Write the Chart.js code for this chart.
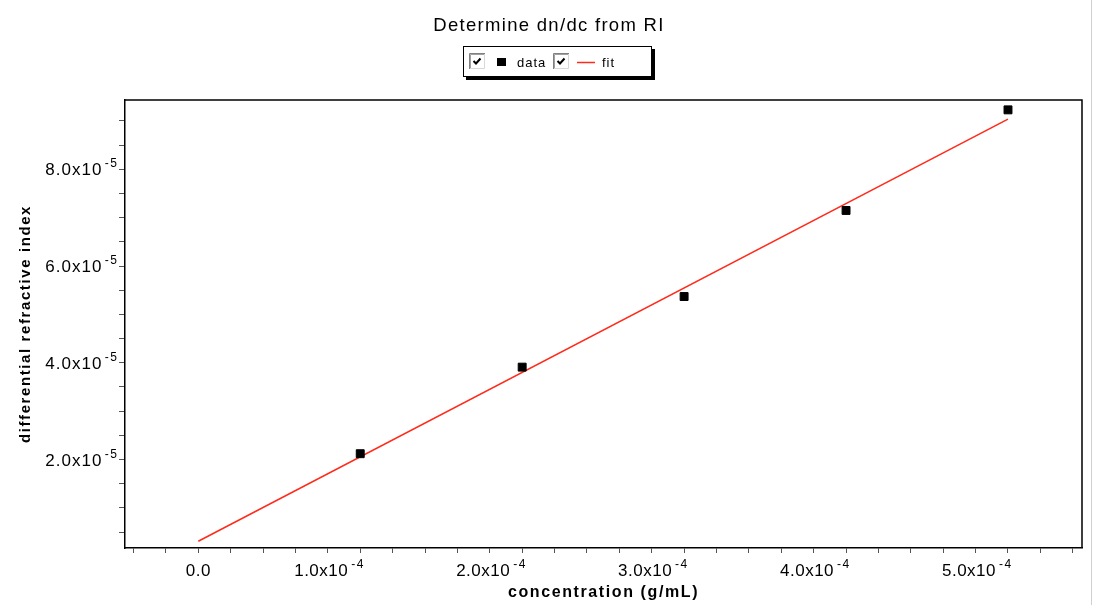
<!DOCTYPE html>
<html>
<head>
<meta charset="utf-8">
<script src="https://cdn.jsdelivr.net/npm/chart.js@4/dist/chart.umd.min.js"></script>
<style>
  html, body { margin: 0; padding: 0; background: #fff; }
  #wrap { position: relative; width: 1099px; height: 605px; }
  #edge { position: absolute; left: 1091px; top: 0; width: 1px; height: 605px; background: #cfcfcf; }
</style>
</head>
<body>
<div id="wrap">
  <canvas id="c" width="1099" height="605"></canvas>
  <div id="edge"></div>
</div>
<script>
// ---- data ----
const concentration = [1e-4, 2e-4, 3e-4, 4e-4, 5e-4];          // g/mL
const diffRI        = [2.12e-5, 3.91e-5, 5.37e-5, 7.15e-5, 9.23e-5];
const fitConc       = [0, 5e-4];
const fitRI         = [0.31e-5, 9.04e-5];

// ---- axes ----
const xRange = [-0.4526e-4, 5.457e-4];
const yRange = [0.17e-5, 9.434e-5];
const xMinorStep = 0.2e-4;
const yMinorStep = 0.5e-5;
const xTickValues = [0, 1e-4, 2e-4, 3e-4, 4e-4, 5e-4];
const xTickLabels = ["0.0", "1.0x10^-4", "2.0x10^-4", "3.0x10^-4", "4.0x10^-4", "5.0x10^-4"];
const yTickValues = [2e-5, 4e-5, 6e-5, 8e-5];
const yTickLabels = ["2.0x10^-5", "4.0x10^-5", "6.0x10^-5", "8.0x10^-5"];

const chartTitle = "Determine dn/dc from RI";
const xTitle = "concentration (g/mL)";
const yTitle = "differential refractive index";
const seriesNames = ["data", "fit"];

const FONT = "'Liberation Sans', Arial, sans-serif";

function minorTicks(min, max, step) {
  const out = [];
  const i0 = Math.ceil(min / step - 1e-9), i1 = Math.floor(max / step + 1e-9);
  for (let i = i0; i <= i1; i++) out.push({ value: i * step });
  return out;
}

function drawCheckbox(ctx, x, y) {
  ctx.fillStyle = '#fff';
  ctx.fillRect(x, y, 16, 16);
  ctx.lineWidth = 1;
  ctx.strokeStyle = '#808080';
  ctx.beginPath(); ctx.moveTo(x + 0.5, y + 16); ctx.lineTo(x + 0.5, y + 0.5); ctx.lineTo(x + 16, y + 0.5); ctx.stroke();
  ctx.strokeStyle = '#a0a0a0';
  ctx.beginPath(); ctx.moveTo(x + 1.5, y + 15); ctx.lineTo(x + 1.5, y + 1.5); ctx.lineTo(x + 15, y + 1.5); ctx.stroke();
  ctx.strokeStyle = '#d8d8d8';
  ctx.beginPath(); ctx.moveTo(x + 15.5, y + 1); ctx.lineTo(x + 15.5, y + 15.5); ctx.lineTo(x + 1, y + 15.5); ctx.stroke();
  ctx.strokeStyle = '#000';
  ctx.lineWidth = 2;
  ctx.beginPath(); ctx.moveTo(x + 4.5, y + 8); ctx.lineTo(x + 7, y + 10.5); ctx.lineTo(x + 11.5, y + 5.5); ctx.stroke();
}

const decor = {
  id: 'decor',
  beforeDraw(chart) {
    chart.ctx.letterSpacing = '1.6px';
  },
  afterDraw(chart) {
    const ctx = chart.ctx, a = chart.chartArea;
    const xs = chart.scales.x, ys = chart.scales.y;
    ctx.save();
    // top & right frame
    ctx.strokeStyle = '#000'; ctx.lineWidth = 1.5;
    ctx.beginPath(); ctx.moveTo(a.left, a.top); ctx.lineTo(a.right, a.top); ctx.lineTo(a.right, a.bottom); ctx.stroke();

    ctx.fillStyle = '#000';
    ctx.textBaseline = 'alphabetic';
    // x tick labels
    xTickValues.forEach((v, i) => {
      const px = xs.getPixelForValue(v);
      const parts = xTickLabels[i].split('^');
      const baseY = a.bottom + 28;
      ctx.font = '17px ' + FONT; ctx.letterSpacing = '0.5px';
      if (parts.length === 1) {
        ctx.textAlign = 'center'; ctx.fillText(parts[0], px, baseY);
      } else {
        ctx.textAlign = 'right'; ctx.fillText(parts[0], px - 12, baseY);
        ctx.font = '12px ' + FONT; ctx.letterSpacing = '1.5px';
        ctx.textAlign = 'left'; ctx.fillText(parts[1], px - 9, baseY - 8);
      }
    });
    // y tick labels
    yTickValues.forEach((v, i) => {
      const py = ys.getPixelForValue(v);
      const parts = yTickLabels[i].split('^');
      const baseY = py + 6;
      ctx.font = '12px ' + FONT; ctx.letterSpacing = '1.5px';
      const supW = ctx.measureText(parts[1]).width;
      ctx.textAlign = 'right';
      ctx.fillText(parts[1], a.left - 8 + 1.5, baseY - 8);
      ctx.font = '17px ' + FONT; ctx.letterSpacing = '1px';
      ctx.fillText(parts[0], a.left - 8 - supW - 1, baseY);
    });

    // chart title
    ctx.font = '18.5px ' + FONT; ctx.letterSpacing = '1.3px';
    ctx.textAlign = 'center';
    ctx.fillText(chartTitle, 549, 31);

    // legend box
    const lx = 463, ly = 46, lw = 189, lh = 31;
    ctx.fillStyle = '#000';
    ctx.fillRect(lx + 3, ly + 3, lw, lh);
    ctx.fillStyle = '#fff';
    ctx.fillRect(lx, ly, lw, lh);
    ctx.strokeStyle = '#000'; ctx.lineWidth = 1;
    ctx.strokeRect(lx + 0.5, ly + 0.5, lw - 1, lh - 1);
    drawCheckbox(ctx, 469, 53);
    drawCheckbox(ctx, 553, 53);
    ctx.fillStyle = '#000';
    ctx.fillRect(497, 58, 9, 8);
    ctx.strokeStyle = chart.data.datasets[1].borderColor; ctx.lineWidth = 1.5;
    ctx.beginPath(); ctx.moveTo(577, 62.5); ctx.lineTo(595, 62.5); ctx.stroke();
    ctx.fillStyle = '#000';
    ctx.font = '13px ' + FONT; ctx.letterSpacing = '1px';
    ctx.textAlign = 'left';
    ctx.fillText(seriesNames[0], 517, 67);
    ctx.fillText(seriesNames[1], 602, 67);
    ctx.restore();
  }
};

new Chart(document.getElementById('c'), {
  type: 'scatter',
  data: {
    datasets: [
      {
        label: seriesNames[0],
        data: concentration.map((c, i) => ({ x: c, y: diffRI[i] })),
        pointStyle: 'rect',
        pointRadius: 5.6,
        pointHoverRadius: 5.6,
        backgroundColor: '#000',
        borderColor: '#000',
        borderWidth: 1,
        order: 0
      },
      {
        label: seriesNames[1],
        data: fitConc.map((c, i) => ({ x: c, y: fitRI[i] })),
        showLine: true,
        pointRadius: 0,
        borderColor: '#ff2a1a',
        borderWidth: 1.5,
        backgroundColor: '#ff2a1a',
        order: 1
      }
    ]
  },
  options: {
    responsive: false,
    animation: false,
    events: [],
    layout: { padding: { top: 100, right: 17, left: 0, bottom: 0 } },
    plugins: { legend: { display: false }, title: { display: false }, tooltip: { enabled: false } },
    scales: {
      x: {
        type: 'linear',
        min: xRange[0], max: xRange[1],
        afterBuildTicks: s => { s.ticks = minorTicks(s.min, s.max, xMinorStep); },
        afterFit: s => { s.height = 57; },
        ticks: { display: false },
        grid: { display: true, drawOnChartArea: false, drawTicks: true, tickLength: 5, color: '#555', lineWidth: 1 },
        border: { display: true, color: '#000', width: 1.5 },
        title: { display: true, text: xTitle, color: '#000', font: { family: FONT, size: 16, weight: 'bold' }, padding: { top: 0, bottom: 3 } }
      },
      y: {
        type: 'linear',
        min: yRange[0], max: yRange[1],
        afterBuildTicks: s => { s.ticks = minorTicks(s.min, s.max, yMinorStep); },
        afterFit: s => { s.width = 125; },
        ticks: { display: false },
        grid: { display: true, drawOnChartArea: false, drawTicks: true, tickLength: 6, color: '#555', lineWidth: 1 },
        border: { display: true, color: '#000', width: 1.5 },
        title: { display: true, text: yTitle, color: '#000', font: { family: FONT, size: 15, weight: 'bold' }, padding: { top: 17, bottom: 0 } }
      }
    }
  },
  plugins: [decor]
});
</script>
</body>
</html>
